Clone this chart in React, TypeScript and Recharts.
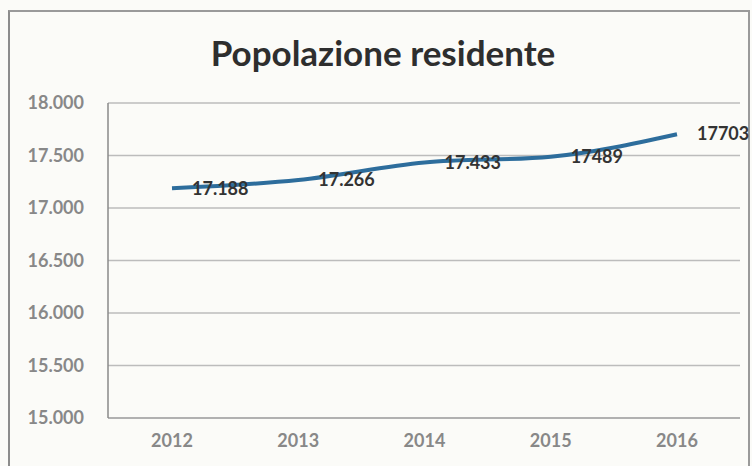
import { CartesianGrid, LabelList, Line, LineChart, XAxis, YAxis } from "recharts";

const YEARS = ["2012", "2013", "2014", "2015", "2016"];
const RESIDENTS = [17188, 17266, 17433, 17489, 17703];
// the labels are printed inconsistently in the original (some with a dot, some without)
const RESIDENT_LABELS = ["17.188", "17.266", "17.433", "17489", "17703"];
const Y_TICKS = [15000, 15500, 16000, 16500, 17000, 17500, 18000];

const data = YEARS.map((year, i) => ({
  year,
  residents: RESIDENTS[i],
  label: RESIDENT_LABELS[i],
}));

const FONT = "Lato, 'Open Sans', sans-serif";

// thousands separator the Italian way: 17500 -> "17.500"
const fmtThousands = (v: number) => {
  const k = Math.floor(v / 1000);
  const r = String(v % 1000).padStart(3, "0");
  return `${k}.${r}`;
};

function ValueLabel(props: any) {
  const { x, y, index } = props;
  return (
    <text
      x={x + 20}
      y={y}
      dy="0.35em"
      fill="#333"
      fontSize={18}
      fontWeight={700}
      fontFamily={FONT}
      textAnchor="start"
    >
      {RESIDENT_LABELS[index]}
    </text>
  );
}

export default function App() {
  return (
    <div style={{ position: "relative", width: 752, height: 466, background: "#fbfbf8", overflow: "hidden" }}>
      <style>{"body{margin:0}"}</style>
      {/* scanned frame */}
      <div
        style={{
          position: "absolute",
          left: 8,
          top: 10,
          width: 738,
          height: 470,
          borderLeft: "2px solid #8c8c8c",
          borderTop: "2px solid #9a9a9a",
          borderRight: "2px solid #9a9a9a",
        }}
      />
      <div
        style={{
          position: "absolute",
          left: 0,
          top: 31,
          width: 766,
          textAlign: "center",
          fontFamily: FONT,
          fontWeight: 700,
          fontSize: 35,
          color: "#2e2e2e",
        }}
      >
        Popolazione residente
      </div>
      <LineChart
        width={752}
        height={466}
        data={data}
        margin={{ top: 103, right: 12, bottom: 8, left: 8 }}
        style={{ position: "absolute", left: 0, top: 0 }}
      >
        <CartesianGrid vertical={false} stroke="#bcbcbc" strokeWidth={1.5} />
        <XAxis
          dataKey="year"
          height={40}
          padding={{ left: 64, right: 63 }}
          axisLine={{ stroke: "#a8a8a8", strokeWidth: 1.5 }}
          tickLine={false}
          tickSize={0}
          tickMargin={16}
          tick={{ fill: "#888", fontSize: 18, fontWeight: 700, fontFamily: FONT }}
        />
        <YAxis
          width={100}
          domain={[15000, 18000]}
          ticks={Y_TICKS}
          tickFormatter={fmtThousands}
          axisLine={{ stroke: "#8a8a8a", strokeWidth: 1.5 }}
          tickLine={false}
          tickSize={0}
          tickMargin={24}
          tick={{ fill: "#888", fontSize: 18, fontWeight: 700, fontFamily: FONT }}
        />
        <Line
          type="monotone"
          dataKey="residents"
          stroke="#2d6d9c"
          strokeWidth={4}
          dot={false}
          isAnimationActive={false}
        >
          <LabelList dataKey="label" content={<ValueLabel />} />
        </Line>
      </LineChart>
    </div>
  );
}
